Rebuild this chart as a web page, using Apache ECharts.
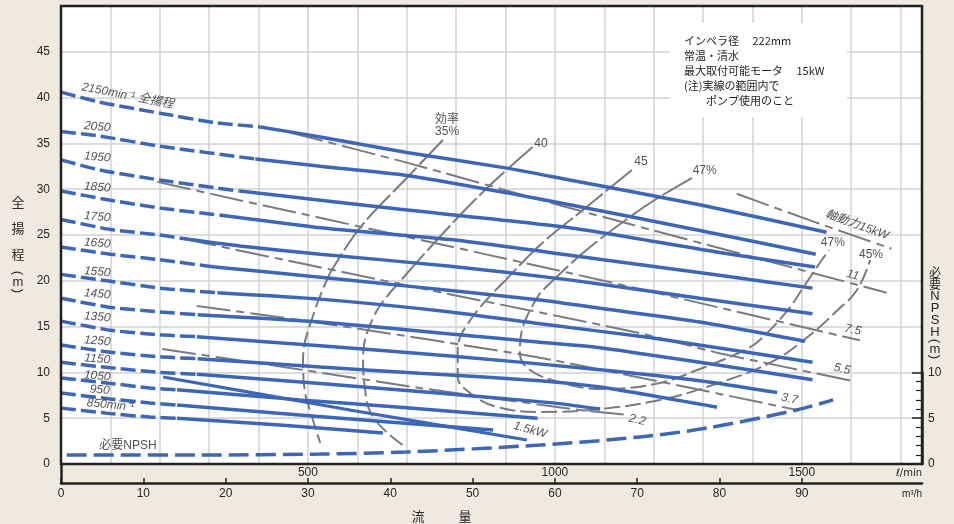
<!DOCTYPE html>
<html><head><meta charset="utf-8">
<script src="https://cdn.jsdelivr.net/npm/echarts@6/dist/echarts.min.js"></script>
<style>html,body{margin:0;padding:0;background:#efe9df;}#c{width:954px;height:524px;}</style>
</head><body><div id="c"></div>
<script>
// ===== DATA (flow: m3/h, head / NPSH: m) =====
const speeds = ['2150','2050','1950','1850','1750','1650','1550','1450','1350','1250','1150','1050','950','850'];
const head2150 = [[0,40.6],[4.7,39.5],[12.0,38.3],[18.5,37.3],[24.2,36.8],[31.5,35.7],[42.0,34.0],[54.2,32.3],[61.8,31.0],[77.6,28.3],[93.0,25.3]];
const head2050 = [[0,36.3],[4.7,35.8],[12.0,34.7],[23.6,33.3],[31.5,32.5],[42.0,31.5],[54.2,29.6],[61.8,28.3],[77.6,25.5],[91.7,22.9]];
const head1950 = [[0,33.2],[4.7,32.1],[12.0,31.0],[21.7,29.8],[31.5,28.8],[41.2,27.8],[61.8,25.8],[80.0,23.1],[91.6,21.5]];
const head1850 = [[0,29.8],[6.0,28.8],[12.0,27.95],[20.9,27.0],[31.5,25.8],[47.3,24.5],[61.8,22.8],[80.0,20.6],[91.3,19.2]];
const head1750 = [[0,26.7],[6.0,25.6],[12.0,25.0],[15.7,24.5],[21.7,23.8],[31.5,22.9],[47.3,21.6],[61.8,20.1],[77.6,18.1],[91.3,16.4]];
const head1650 = [[0,23.7],[6.0,22.9],[12.0,22.3],[18.7,21.5],[31.5,20.4],[41.2,19.5],[58.2,17.9],[65.5,17.0],[77.6,15.5],[90.4,13.4]];
const head1550 = [[0,20.7],[5.6,20.0],[12.0,19.2],[19.0,18.7],[31.5,18.0],[47.3,16.6],[58.2,15.3],[71.5,13.8],[91.3,11.1]];
const head1450 = [[0,18.1],[6.0,17.1],[12.0,16.6],[16.6,16.3],[31.5,15.5],[47.3,14.2],[58.2,13.3],[65.5,12.7],[77.6,11.1],[91.3,9.2]];
const head1350 = [[0,15.6],[6.0,14.6],[12.0,14.1],[16.5,13.9],[31.5,12.9],[47.3,11.8],[65.5,10.3],[77.6,9.1],[87.0,7.8]];
const head1250 = [[0,13.0],[6.0,12.2],[12.0,11.7],[16.6,11.5],[31.5,10.6],[43.6,9.9],[58.2,9.1],[65.5,8.4],[79.7,6.2]];
const head1150 = [[0,11.1],[6.0,10.5],[12.0,10.0],[16.5,9.8],[31.5,8.8],[45.0,7.8],[59.4,6.7],[65.5,6.0]];
const head1050 = [[0,9.4],[6.0,8.8],[10.8,8.3],[14.1,8.1],[29.0,7.0],[41.2,6.2],[57.9,5.0]];
const head950  = [[0,7.75],[6.0,7.1],[10.8,6.66],[14.1,6.44],[29.0,5.35],[52.5,3.71]];
const head850  = [[0,6.1],[6.0,5.5],[10.8,5.13],[14.1,5.0],[26.6,4.26],[39.1,3.38]];
// flow where each head curve turns from dashed to solid
const solidFrom = [24.2,23.6,21.7,20.9,15.7,18.7,19.0,16.6,16.5,16.6,16.5,14.1,14.1,14.1];

const npshReq = [[0.7,0.98],[16.9,0.98],[31.5,1.09],[42.0,1.31],[58.2,2.07],[70.3,2.95],[78.5,3.93],[89.4,5.9],[93.8,7.0]];

// efficiency curves (upper solid part / lower broken part)
const eff35Upper = [[46.4,35.37],[42.0,31.22],[36.3,25.76],[32.7,20.85]];
const eff35Lower = [[32.7,20.85],[30.85,16.81],[29.4,11.35],[29.6,8.08],[30.5,5.13],[31.5,2.29]];
const eff40Upper = [[57.3,34.61],[51.5,29.91],[46.0,24.78],[40.8,19.54]];
const eff40Lower = [[40.8,19.54],[38.1,16.27],[36.7,11.68],[36.9,8.41],[37.9,5.13],[41.5,2.07]];
const eff45Upper = [[69.36,32.1],[63.4,27.73],[58.2,23.91],[54.05,20.09]];
const eff45Lower = [[54.05,20.09],[50.0,16.05],[48.2,12.45],[48.2,9.5],[49.7,7.75],[53.0,6.22],[58.2,5.68],[65.5,6.0],[72.76,6.99],[78.8,8.52],[86.1,11.03],[90.7,13.86],[94.1,16.59],[96.7,19.0],[98.3,22.27]];
const eff47Upper = [[76.64,31.22],[72.51,29.04],[69.11,26.97],[63.4,23.03],[58.2,18.67]];
const eff47Lower = [[58.2,18.67],[56.0,14.63],[55.75,12.12],[56.97,10.26],[60.97,8.84],[65.47,8.19],[72.15,8.73],[77.61,10.37],[83.08,12.45],[84.9,13.54],[88.3,16.81],[90.37,19.54],[92.43,22.27],[93.3,23.36]];

// shaft power lines
const kw15  = [[82.1,29.5],[91.6,26.4],[100.9,23.5]];
const kw11  = [[27.8,36.2],[42.0,32.9],[61.8,27.95],[100.3,18.7]];
const kw7_5 = [[11.7,30.8],[21.7,28.8],[42.0,24.8],[61.8,20.85],[70.3,19.1],[97.05,13.5]];
const kw5_5 = [[14.8,24.6],[43.6,19.2],[70.3,14.3],[80.0,12.1],[96.2,9.06]];
const kw3_7 = [[16.5,17.25],[31.5,15.4],[58.2,11.6],[89.4,5.9]];
const kw2_2 = [[12.3,12.55],[27.0,10.6],[43.6,8.3],[63.0,5.9],[68.5,5.4]];
const kw1_5 = [[12.4,9.5],[35.1,5.9],[56.6,2.62]];

// tick labels
const flowTicksM3h = [0,10,20,30,40,50,60,70,80,90];
const flowTicksLmin = [500,1000,1500];
const headTicks = [0,5,10,15,20,25,30,35,40,45];
const npshTicks = [0,5,10];

// label texts
const speedLabels = ['2150min\u207B\u00B9 全揚程','2050','1950','1850','1750','1650','1550','1450','1350','1250','1150','1050','950','850min\u207B\u00B9'];
const effLabels = ['効率\n35%','40','45','47%','47%','45%'];
const powerLabels = ['軸動力15kW','11','7.5','5.5','3.7','2.2','1.5kW'];
const npshLabel = '必要NPSH';
const noteLines = ['インペラ径　 222mm','常温・清水','最大取付可能モータ　 15kW','(注)実線の範囲内で','　　ポンプ使用のこと'];

// ===== LAYOUT / STYLE =====
const speedLabelAt = [[8.1,40.2],[4.4,36.8],[4.4,33.5],[4.4,30.2],[4.4,26.97],[4.4,24.1],[4.4,20.96],[4.4,18.56],[4.4,16.05],[4.4,13.43],[4.4,11.46],[4.4,9.6],[4.7,8.08],[6.0,6.44]];
const speedLabelRot = [-11,-5,-5,-5,-5,-5,-5,-5,-5,-5,-5,-5,-5,-5];
const effLabelAt = [[46.9,36.9],[58.3,34.93],[70.45,32.97],[78.2,31.99],[93.77,24.13],[98.4,22.82]];
const powerLabelAt = [[96.7,26.1],[96.2,20.63],[96.2,14.63],[94.9,10.37],[88.5,7.1],[70.0,4.8],[57.0,3.71]];
const powerLabelRot = [-20,-14,-12,-12,-12,-12,-15];

const FONT = '"Liberation Sans", "Noto Sans CJK JP", sans-serif';
const BLUE = '#3c67b6', GREY = '#7a7a83', INK = '#222222', TXT = '#262626';
const XMAX = 104.6;           // m3/h at right frame
const LMIN_PER_M3H = 1000/60;

const heads = [head2150,head2050,head1950,head1850,head1750,head1650,head1550,head1450,head1350,head1250,head1150,head1050,head950,head850];

const series = [];
function line(data, color, width, type, smooth, xi, yi) {
  return {type:'line', data, xAxisIndex:xi||0, yAxisIndex:yi||0, symbol:'none', smooth:smooth, silent:true,
    lineStyle:{color, width, type:type||'solid', cap:'butt'}, z:3};
}
// efficiency
[[eff35Upper,eff35Lower],[eff40Upper,eff40Lower],[eff45Upper,eff45Lower],[eff47Upper,eff47Lower]].forEach(([u,l])=>{
  series.push(line(u, GREY, 2, [34,4], 0.4));
  series.push(line(l, GREY, 2, [16,5], 0.4));
});
// power
[kw15,kw11,kw7_5,kw5_5,kw3_7,kw2_2].forEach(d=>series.push(line(d, GREY, 2, [34,6,8,6], 0.2)));
// head curves
heads.forEach((c,i)=>{
  const s = solidFrom[i];
  series.push(line(c.filter(p=>p[0]<=s), BLUE, 3.5, [15,5], 0.2));
  series.push(line(c.filter(p=>p[0]>=s), BLUE, 3.5, 'solid', 0.2));
});
series.push(line(kw1_5, BLUE, 3.2, 'solid', 0.1));
// NPSH (right axis)
series.push(line(npshReq, BLUE, 3.5, [20,7], 0.3, 3, 2));

function labelSeries(pos, texts, rots, extra) {
  return {type:'scatter', xAxisIndex:0, yAxisIndex:0, symbol:'circle', symbolSize:1, silent:true, z:6,
    itemStyle:{color:'rgba(0,0,0,0)'},
    label:Object.assign({show:true, position:'inside', fontSize:12, color:TXT, fontFamily:FONT}, extra||{}),
    data: pos.map((p,i)=>({value:p, label:{formatter:texts[i], rotate: rots ? rots[i] : 0}}))};
}
series.push(labelSeries(speedLabelAt, speedLabels, speedLabelRot, {fontStyle:'italic'}));
series.push(labelSeries(effLabelAt, effLabels, null, {lineHeight:12}));
series.push(labelSeries(powerLabelAt, powerLabels, powerLabelRot, {fontStyle:'italic'}));
series.push(labelSeries([[8.14,1.97]], [npshLabel], null, {}));

const option = {
  animation:false,
  backgroundColor:'#efe9df',
  textStyle:{fontFamily:FONT},
  grid:[
    {left:61, right:32, top:6, bottom:60, show:true, backgroundColor:'#ffffff', borderWidth:0},
    {left:61, right:32, top:464, bottom:41, show:false},
    {left:61, right:32, top:372.4, bottom:60, show:false}
  ],
  xAxis:[
    {gridIndex:0, type:'value', min:0, max:XMAX, show:false},
    {gridIndex:0, type:'value', min:0, max:XMAX*LMIN_PER_M3H, interval:100, position:'bottom',
      axisLine:{show:false}, axisTick:{show:false},
      axisLabel:{margin:3, fontSize:12, color:TXT, fontFamily:FONT,
        formatter:v=> flowTicksLmin.indexOf(Math.round(v))>=0 ? String(Math.round(v)) : ''},
      splitLine:{show:true, lineStyle:{color:'#d2d2d2', width:1.5}}},
    {gridIndex:1, type:'value', min:0, max:XMAX, interval:10, position:'bottom',
      axisLine:{show:true, onZero:false, lineStyle:{color:INK, width:2.5}},
      axisTick:{show:true, inside:true, length:5, lineStyle:{color:INK, width:1.5}, customValues:flowTicksM3h},
      axisLabel:{margin:5, fontSize:12, color:TXT, fontFamily:FONT, customValues:flowTicksM3h,
        formatter:v=> flowTicksM3h.indexOf(v)>=0 ? String(v) : ''},
      splitLine:{show:false}},
    {gridIndex:2, type:'value', min:0, max:XMAX, show:false}
  ],
  yAxis:[
    {gridIndex:0, type:'value', min:0, max:50, interval:5, position:'left',
      axisLine:{show:false}, axisTick:{show:false},
      axisLabel:{margin:11, fontSize:12, color:TXT, fontFamily:FONT,
        formatter:v=> headTicks.indexOf(v)>=0 ? String(v) : ''},
      splitLine:{show:true, lineStyle:{color:'#d2d2d2', width:1.5}}},
    {gridIndex:1, type:'value', min:0, max:1, position:'left',
      axisLine:{show:true, onZero:false, lineStyle:{color:INK, width:2.5}},
      axisTick:{show:false}, axisLabel:{show:false}, splitLine:{show:false}},
    {gridIndex:2, type:'value', min:0, max:10, interval:5, position:'right',
      axisLine:{show:true, onZero:false, lineStyle:{color:INK, width:2.5}},
      axisTick:{show:true, inside:true, length:10, lineStyle:{color:INK, width:1.5}},
      minorTick:{show:true, splitNumber:5, length:6, lineStyle:{color:INK, width:1.2}},
      axisLabel:{margin:6, fontSize:12, color:TXT, fontFamily:FONT,
        formatter:v=> npshTicks.indexOf(v)>=0 ? String(v) : ''},
      splitLine:{show:false}}
  ],
  graphic:[
    {type:'rect', z:100, silent:true, shape:{x:61, y:6, width:861, height:458}, style:{fill:null, stroke:INK, lineWidth:2.5}},
    {type:'rect', z:50, silent:true, shape:{x:670, y:23, width:177, height:94}, style:{fill:'#ffffff'}},
    {type:'text', z:51, silent:true, x:684, y:33, style:{text:noteLines.join('\n'), font:'11px "Noto Sans CJK JP", sans-serif', fill:'#1e1e1e', lineHeight:15}},
    // left axis title
    {type:'text', silent:true, x:18, y:202, style:{text:'全', font:'13px "Noto Sans CJK JP"', fill:TXT, align:'center', verticalAlign:'middle'}},
    {type:'text', silent:true, x:18, y:228, style:{text:'揚', font:'13px "Noto Sans CJK JP"', fill:TXT, align:'center', verticalAlign:'middle'}},
    {type:'text', silent:true, x:18, y:254, style:{text:'程', font:'13px "Noto Sans CJK JP"', fill:TXT, align:'center', verticalAlign:'middle'}},
    {type:'text', silent:true, x:18, y:273, rotation:-Math.PI/2, style:{text:'(', font:'13px "Liberation Sans"', fill:TXT, align:'center', verticalAlign:'middle'}},
    {type:'text', silent:true, x:18, y:282, style:{text:'m', font:'13px "Liberation Sans"', fill:TXT, align:'center', verticalAlign:'middle'}},
    {type:'text', silent:true, x:18, y:291, rotation:-Math.PI/2, style:{text:')', font:'13px "Liberation Sans"', fill:TXT, align:'center', verticalAlign:'middle'}},
    // right axis title
    {type:'text', silent:true, x:935, y:272, style:{text:'必', font:'12px "Noto Sans CJK JP"', fill:TXT, align:'center', verticalAlign:'middle'}},
    {type:'text', silent:true, x:935, y:284, style:{text:'要', font:'12px "Noto Sans CJK JP"', fill:TXT, align:'center', verticalAlign:'middle'}},
    {type:'text', silent:true, x:935, y:296, style:{text:'N', font:'13px "Liberation Sans"', fill:TXT, align:'center', verticalAlign:'middle'}},
    {type:'text', silent:true, x:935, y:308, style:{text:'P', font:'13px "Liberation Sans"', fill:TXT, align:'center', verticalAlign:'middle'}},
    {type:'text', silent:true, x:935, y:320, style:{text:'S', font:'13px "Liberation Sans"', fill:TXT, align:'center', verticalAlign:'middle'}},
    {type:'text', silent:true, x:935, y:332, style:{text:'H', font:'13px "Liberation Sans"', fill:TXT, align:'center', verticalAlign:'middle'}},
    {type:'text', silent:true, x:935, y:341, rotation:-Math.PI/2, style:{text:'(', font:'13px "Liberation Sans"', fill:TXT, align:'center', verticalAlign:'middle'}},
    {type:'text', silent:true, x:935, y:349, style:{text:'m', font:'13px "Liberation Sans"', fill:TXT, align:'center', verticalAlign:'middle'}},
    {type:'text', silent:true, x:935, y:357, rotation:-Math.PI/2, style:{text:')', font:'13px "Liberation Sans"', fill:TXT, align:'center', verticalAlign:'middle'}},
    // bottom title and units
    {type:'text', silent:true, x:418, y:516, style:{text:'流', font:'13px "Noto Sans CJK JP"', fill:TXT, align:'center', verticalAlign:'middle'}},
    {type:'text', silent:true, x:465, y:516, style:{text:'量', font:'13px "Noto Sans CJK JP"', fill:TXT, align:'center', verticalAlign:'middle'}},
    {type:'text', silent:true, x:922, y:473, style:{text:'\u2113/min', font:'10px "DejaVu Sans"', fill:TXT, align:'right', verticalAlign:'middle'}},
    {type:'text', silent:true, x:922, y:494, style:{text:'m\u00B3/h', font:'10px "Liberation Sans"', fill:TXT, align:'right', verticalAlign:'middle'}}
  ],
  series
};
const chart = echarts.init(document.getElementById('c'));
chart.setOption(option);
</script></body></html>
